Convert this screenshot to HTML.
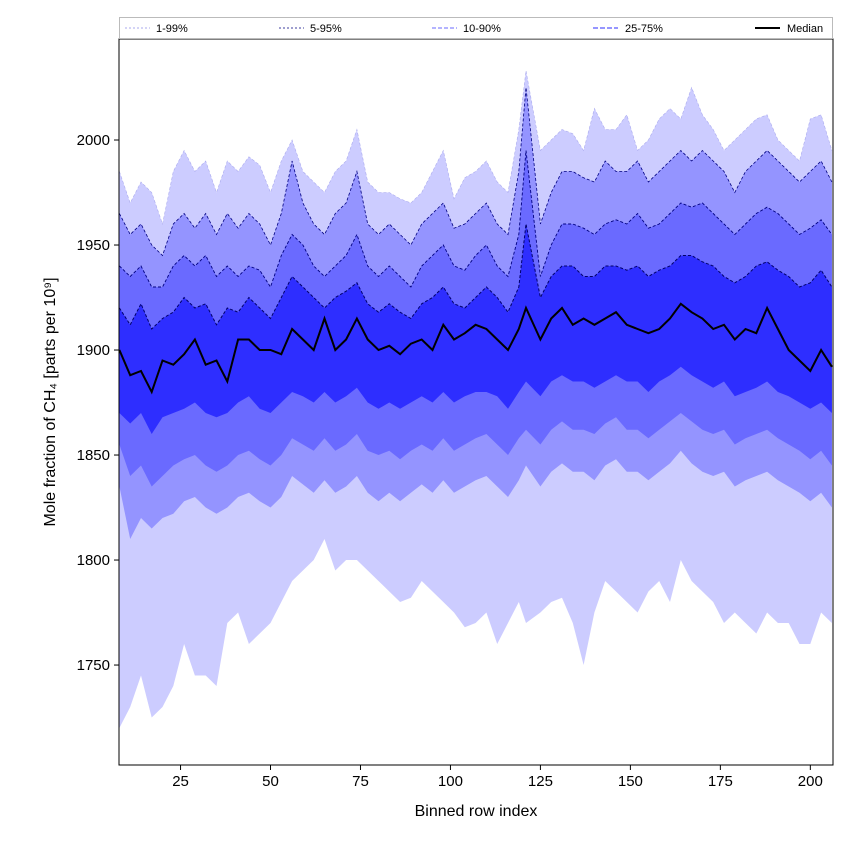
<!DOCTYPE html>
<html><head><meta charset="utf-8"><style>
body{margin:0;background:#fff}
svg text{font-family:"Liberation Sans",sans-serif}
</style></head><body>
<svg id="c" width="850" height="850"></svg>
<script>
const xs=[8,11,14,17,20,23,26,29,32,35,38,41,44,47,50,53,56,59,62,65,68,71,74,77,80,83,86,89,92,95,98,101,104,107,110,113,116,119,121,125,128,131,134,137,140,143,146,149,152,155,158,161,164,167,170,173,176,179,182,185,188,191,194,197,200,203,206];
const p99=[1985,1970,1980,1975,1960,1985,1995,1985,1990,1975,1990,1985,1992,1988,1975,1990,2000,1985,1980,1975,1985,1990,2005,1980,1975,1975,1972,1970,1975,1985,1995,1972,1982,1985,1990,1980,1975,2005,2033,1995,2000,2005,2003,1995,2015,2005,2005,2012,1995,2000,2010,2015,2010,2025,2012,2005,1995,2000,2005,2010,2012,2000,1995,1990,2010,2012,1995];
const p95=[1965,1955,1960,1950,1945,1960,1965,1958,1965,1955,1965,1958,1965,1960,1950,1965,1990,1970,1960,1955,1965,1970,1985,1960,1955,1960,1955,1950,1960,1965,1970,1958,1960,1965,1970,1960,1955,1985,2025,1960,1975,1985,1985,1982,1980,1990,1985,1985,1990,1980,1985,1990,1995,1990,1995,1990,1985,1975,1985,1990,1995,1990,1985,1980,1985,1990,1980];
const p90=[1940,1935,1940,1930,1930,1940,1945,1940,1945,1935,1940,1935,1940,1938,1930,1945,1955,1950,1940,1935,1940,1945,1955,1940,1935,1940,1935,1930,1940,1945,1950,1940,1938,1945,1950,1940,1935,1955,1995,1935,1950,1960,1960,1958,1955,1960,1962,1960,1965,1958,1960,1965,1970,1968,1970,1965,1960,1955,1960,1965,1968,1965,1960,1955,1958,1962,1955];
const p75=[1920,1912,1922,1910,1915,1918,1925,1920,1922,1912,1920,1918,1925,1920,1915,1925,1935,1930,1925,1920,1925,1928,1932,1922,1918,1922,1918,1915,1922,1925,1930,1922,1920,1925,1930,1925,1918,1930,1960,1925,1935,1940,1940,1935,1935,1940,1940,1938,1940,1935,1938,1940,1945,1945,1942,1940,1935,1932,1935,1940,1942,1938,1935,1930,1932,1938,1930];
const p50=[1900,1888,1890,1880,1895,1893,1898,1905,1893,1895,1885,1905,1905,1900,1900,1898,1910,1905,1900,1915,1900,1905,1915,1905,1900,1902,1898,1903,1905,1900,1912,1905,1908,1912,1910,1905,1900,1910,1920,1905,1915,1920,1912,1915,1912,1915,1918,1912,1910,1908,1910,1915,1922,1918,1915,1910,1912,1905,1910,1908,1920,1910,1900,1895,1890,1900,1892];
const p25=[1870,1865,1870,1860,1868,1870,1872,1875,1870,1868,1870,1875,1878,1872,1870,1875,1880,1878,1875,1880,1875,1878,1882,1875,1872,1875,1872,1875,1878,1875,1880,1875,1878,1880,1880,1878,1872,1880,1885,1878,1885,1888,1885,1885,1882,1885,1888,1885,1885,1880,1885,1888,1892,1888,1885,1882,1885,1878,1880,1882,1885,1880,1878,1875,1872,1875,1870];
const p10=[1855,1840,1845,1835,1840,1845,1848,1850,1845,1842,1845,1850,1852,1848,1845,1850,1858,1855,1852,1858,1852,1855,1860,1852,1850,1852,1848,1852,1855,1852,1858,1852,1855,1858,1860,1855,1850,1858,1862,1855,1862,1866,1862,1862,1860,1865,1868,1862,1862,1858,1862,1866,1870,1866,1862,1860,1862,1855,1858,1860,1862,1858,1855,1852,1848,1852,1845];
const p5=[1835,1810,1820,1815,1820,1822,1828,1830,1825,1822,1825,1830,1832,1828,1825,1830,1840,1836,1832,1838,1832,1835,1840,1832,1828,1832,1828,1832,1836,1832,1838,1832,1835,1838,1840,1835,1830,1838,1845,1835,1842,1846,1842,1842,1838,1845,1848,1842,1842,1838,1842,1846,1852,1846,1842,1840,1842,1835,1838,1840,1842,1838,1835,1832,1828,1832,1825];
const p1=[1720,1730,1745,1725,1730,1740,1760,1745,1745,1740,1770,1775,1760,1765,1770,1780,1790,1795,1800,1810,1795,1800,1800,1795,1790,1785,1780,1782,1790,1785,1780,1775,1768,1770,1775,1760,1770,1780,1770,1775,1780,1782,1770,1750,1775,1790,1785,1780,1775,1785,1790,1780,1800,1790,1785,1780,1770,1775,1770,1765,1775,1770,1770,1760,1760,1775,1770];
const xTicks=[25,50,75,100,125,150,175,200];
const yTicks=[1750,1800,1850,1900,1950,2000];
const L=119,R=833,T=39,B=765,X0=7.9,X1=206.3,Y0=1702.4,Y1=2048.1;
const sx=v=>L+(v-X0)/(X1-X0)*(R-L), sy=v=>B-(v-Y0)/(Y1-Y0)*(B-T);
const svg=document.getElementById('c'),NS='http://www.w3.org/2000/svg';
function mk(t,a,p){const e=document.createElementNS(NS,t);for(const k in a)e.setAttribute(k,a[k]);(p||svg).appendChild(e);return e;}
const g=mk('g',{'clip-path':'url(#cp)'});
const cp=mk('clipPath',{id:'cp'});mk('rect',{x:L,y:T,width:R-L,height:B-T},cp);
const line=a=>a.map((v,i)=>sx(xs[i]).toFixed(1)+','+sy(v).toFixed(1)).join(' ');
function band(lo,hi,col,name){
 const pts=hi.map((v,i)=>sx(xs[i]).toFixed(1)+','+sy(v).toFixed(1));
 for(let i=lo.length-1;i>=0;i--)pts.push(sx(xs[i]).toFixed(1)+','+sy(lo[i]).toFixed(1));
 const e=mk('polygon',{points:pts.join(' '),fill:col},g);
 
 
}
band(p1,p99,'#ccccff','band-1-99');
band(p5,p95,'#9494ff','band-5-95');
band(p10,p90,'#6a6aff','band-10-90');
band(p25,p75,'#2e2eff','band-25-75');
[[p99,'#aaaaee',0.6,'edge-99'],[p95,'#000080',0.8,'edge-95'],[p90,'#000080',0.9,'edge-90'],[p75,'#00006a',1,'edge-75']].forEach(s=>{
 const e=mk('polyline',{points:line(s[0]),fill:'none',stroke:s[1],'stroke-width':s[2],'stroke-dasharray':'3,2'},g);
 
 
});
const med=mk('polyline',{points:line(p50),fill:'none',stroke:'#000','stroke-width':2},g);


const fr=mk('rect',{x:L,y:T,width:R-L,height:B-T,fill:'none',stroke:'#000','stroke-width':1});


xTicks.forEach(t=>{const x=sx(t);mk('line',{x1:x,x2:x,y1:B,y2:B+5,stroke:'#000'});
 const tx=mk('text',{x:x,y:B+21,'font-size':15,'text-anchor':'middle'});tx.textContent=t;
 
 });
yTicks.forEach(t=>{const y=sy(t);mk('line',{x1:L-5,x2:L,y1:y,y2:y,stroke:'#000'});
 const tx=mk('text',{x:L-9,y:y+5,'font-size':15,'text-anchor':'end'});tx.textContent=t;
 
 });
</script>
<svg style="position:absolute;left:0;top:0" width="850" height="850">
<text x="476" y="816" font-size="16" text-anchor="middle" font-family="Liberation Sans">Binned row index</text>
<text transform="translate(55,402) rotate(-90)" font-size="16" text-anchor="middle" font-family="Liberation Sans">Mole fraction of CH₄ [parts per 10⁹]</text>
<g font-family="Liberation Sans" font-size="11">
<rect x="119.5" y="17.5" width="713" height="21" fill="#fff" stroke="#bbb"/>
<line x1="125" x2="150" y1="28" y2="28" stroke="#aaaaee" stroke-dasharray="2,2"/><text x="156" y="32">1-99%</text>
<line x1="279" x2="304" y1="28" y2="28" stroke="#000080" stroke-width="0.8" stroke-dasharray="2,2"/><text x="310" y="32">5-95%</text>
<line x1="432" x2="457" y1="28" y2="28" stroke="#6a6aff" stroke-dasharray="4,2"/><text x="463" y="32">10-90%</text>
<line x1="593" x2="618" y1="28" y2="28" stroke="#2e2eff" stroke-dasharray="5,2"/><text x="625" y="32">25-75%</text>
<line x1="755" x2="780" y1="28" y2="28" stroke="#000" stroke-width="2"/><text x="787" y="32">Median</text>
</g>
</svg>
</body></html>
